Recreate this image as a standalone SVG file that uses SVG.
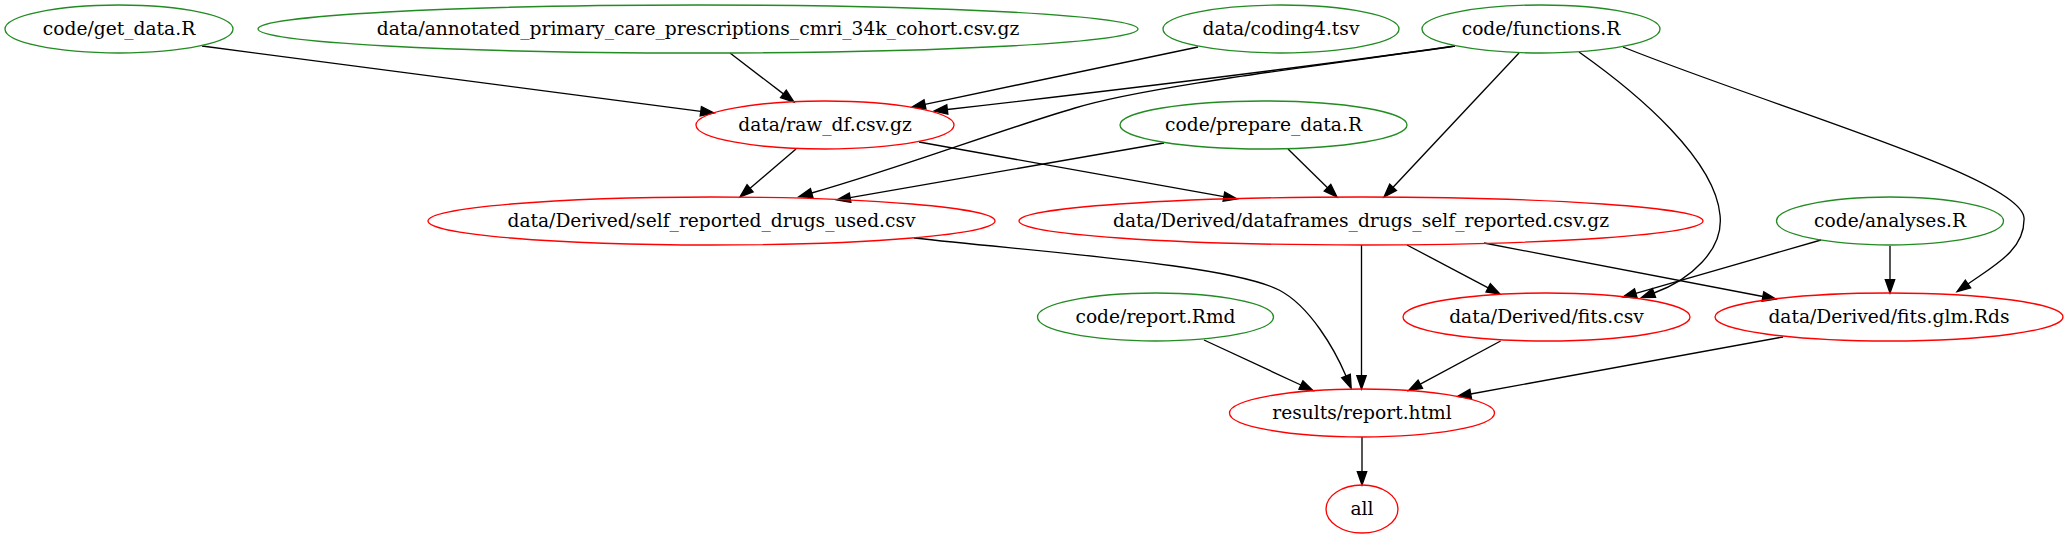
<svg xmlns="http://www.w3.org/2000/svg" width="2068" height="539" viewBox="0 0 2068 539">
<style>
.n ellipse{fill:none;stroke-width:1.33}
.g ellipse{stroke:#228b22}
.r ellipse{stroke:#ff0000}
.n text{font-family:"DejaVu Serif",serif;font-size:18.67px;text-anchor:middle;fill:#000}
#edges path{fill:none;stroke:#000;stroke-width:1.33;marker-end:url(#ah)}
</style>
<defs>
<marker id="ah" markerUnits="userSpaceOnUse" viewBox="-2 -7 18 14" markerWidth="18" markerHeight="14" refX="0" refY="0" orient="auto">
<path d="M0,-4.67 L13.33,0 L0,4.67 Z" fill="#000" stroke="#000" stroke-width="1.33"/>
</marker>
</defs>
<rect width="2068" height="539" fill="#fff"/>
<g id="edges">
<path d="M202,46 L700.8,111.3"/>
<path d="M730,53 L783.4,93.9"/>
<path d="M1198,47 L925,104.3"/>
<path d="M1455,46 C1300,68 1100,92 947.3,109.5"/>
<path d="M1455,46 C1350,62 1150,85 1075,108 C1000,130 900,168 811.7,193"/>
<path d="M1519,53 L1393.1,187.3"/>
<path d="M1579,52 C1640,95 1715,160 1720,215 C1724,250 1690,280 1654,293"/>
<path d="M1623,47 C1780,110 2030,180 2024,220 C2024,250 1995,265 1968,284"/>
<path d="M796,149 L750.1,188.3"/>
<path d="M919,142 L1223.9,196.6"/>
<path d="M1164,143 L850.1,197.7"/>
<path d="M1288,149 L1327.5,187.7"/>
<path d="M914,238 C1050,253 1230,265 1279,290 C1310,306 1335,350 1346,376"/>
<path d="M1361.5,245 L1361.5,375.7"/>
<path d="M1407,245 L1488.2,287.8"/>
<path d="M1484,243 L1762.9,296.5"/>
<path d="M1821,240 L1635.8,293.3"/>
<path d="M1890,246 L1890,279.7"/>
<path d="M1204,340 L1300.9,385"/>
<path d="M1500.6,341 L1420.3,384.2"/>
<path d="M1783,337 L1470.7,394"/>
<path d="M1362,437 L1362,471.7"/>
</g>
<g id="n_get_data" class="n g"><ellipse cx="119" cy="29" rx="114" ry="24"/><text x="119" y="35">code/get_data.R</text></g>
<g id="n_annotated" class="n g"><ellipse cx="698" cy="29" rx="440" ry="24"/><text x="698" y="35">data/annotated_primary_care_prescriptions_cmri_34k_cohort.csv.gz</text></g>
<g id="n_coding4" class="n g"><ellipse cx="1281" cy="29" rx="118" ry="24"/><text x="1281" y="35">data/coding4.tsv</text></g>
<g id="n_functions" class="n g"><ellipse cx="1541" cy="29" rx="119" ry="24"/><text x="1541" y="35">code/functions.R</text></g>
<g id="n_raw_df" class="n r"><ellipse cx="825" cy="125" rx="129" ry="24"/><text x="825" y="131">data/raw_df.csv.gz</text></g>
<g id="n_prepare" class="n g"><ellipse cx="1263.5" cy="125" rx="143.5" ry="24"/><text x="1263.5" y="131">code/prepare_data.R</text></g>
<g id="n_self_reported" class="n r"><ellipse cx="711.5" cy="221" rx="283.5" ry="24"/><text x="711.5" y="227">data/Derived/self_reported_drugs_used.csv</text></g>
<g id="n_dataframes" class="n r"><ellipse cx="1361" cy="221" rx="342" ry="24"/><text x="1361" y="227">data/Derived/dataframes_drugs_self_reported.csv.gz</text></g>
<g id="n_analyses" class="n g"><ellipse cx="1890" cy="221" rx="113.5" ry="24"/><text x="1890" y="227">code/analyses.R</text></g>
<g id="n_report_rmd" class="n g"><ellipse cx="1155.5" cy="317" rx="118" ry="24"/><text x="1155.5" y="323">code/report.Rmd</text></g>
<g id="n_fits_csv" class="n r"><ellipse cx="1546.5" cy="317" rx="143.5" ry="24"/><text x="1546.5" y="323">data/Derived/fits.csv</text></g>
<g id="n_fits_glm" class="n r"><ellipse cx="1889" cy="317" rx="174" ry="24"/><text x="1889" y="323">data/Derived/fits.glm.Rds</text></g>
<g id="n_report_html" class="n r"><ellipse cx="1362" cy="413" rx="132.5" ry="24"/><text x="1362" y="419">results/report.html</text></g>
<g id="n_all" class="n r"><ellipse cx="1362" cy="509" rx="36" ry="24"/><text x="1362" y="515">all</text></g>
</svg>
